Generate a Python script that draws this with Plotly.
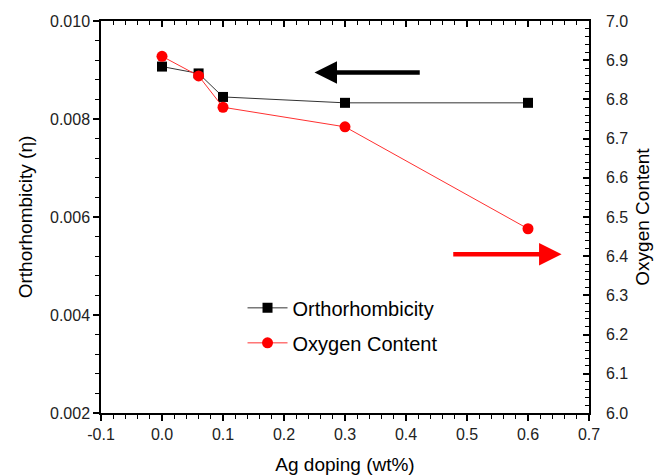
import plotly.graph_objects as go

ag_doping = [0.0, 0.06, 0.1, 0.3, 0.6]
orthorhombicity = [0.00907, 0.00893, 0.00845, 0.00833, 0.00833]
oxygen_content = [6.91, 6.86, 6.78, 6.73, 6.47]

x_tickvals = [-0.1, 0.0, 0.1, 0.2, 0.3, 0.4, 0.5, 0.6, 0.7]
x_ticktext = ["-0.1", "0.0", "0.1", "0.2", "0.3", "0.4", "0.5", "0.6", "0.7"]

FONT = "Liberation Sans, Arial, sans-serif"

fig = go.Figure()
fig.add_trace(go.Scatter(
    x=ag_doping, y=orthorhombicity, name="Orthorhombicity",
    mode="lines+markers", legendgroup="a",
    line=dict(color="#333333", width=1),
    marker=dict(symbol="square", size=10, color="black"),
    yaxis="y", xaxis="x"))
fig.add_trace(go.Scatter(
    x=ag_doping, y=oxygen_content, name="Oxygen Content",
    mode="lines+markers", legendgroup="b",
    line=dict(color="#ff3030", width=1),
    marker=dict(symbol="circle", size=11, color="#ff0000"),
    yaxis="y2", xaxis="x"))

# invisible trace to activate top axis
fig.add_trace(go.Scatter(x=[None], y=[None], xaxis="x2", yaxis="y",
                         showlegend=False, hoverinfo="skip"))

tickfont = dict(family=FONT, size=16, color="#222222")
titlefont = dict(family=FONT, size=19, color="black")

fig.update_layout(
    width=657, height=476,
    margin=dict(l=101, r=68, t=21, b=63),
    plot_bgcolor="white", paper_bgcolor="white",
    showlegend=True,
    legend=dict(x=0.29, y=0.318, xanchor="left", yanchor="top",
                font=dict(family=FONT, size=20, color="black"),
                bgcolor="rgba(0,0,0,0)", traceorder="grouped",
                tracegroupgap=6, itemwidth=40),
    xaxis=dict(range=[-0.1, 0.7], tickvals=x_tickvals, ticktext=x_ticktext,
               showline=True, linecolor="black", linewidth=1.5, automargin=False,
               ticks="outside", ticklen=6, tickwidth=1.5, tickcolor="black",
               minor=dict(dtick=0.02, tick0=0, ticks="outside", ticklen=4, tickcolor="black", tickwidth=1),
               showgrid=False, zeroline=False, tickfont=tickfont,
               title=dict(text="Ag doping (wt%)", font=titlefont, standoff=16)),
    xaxis2=dict(range=[-0.1, 0.7], overlaying="x", side="top", dtick=0.1, tick0=0,
                showline=True, linecolor="black", linewidth=1.5, automargin=False,
                ticks="inside", ticklen=6, tickwidth=1.5, tickcolor="black",
                minor=dict(dtick=0.02, ticks="inside", ticklen=4, tickcolor="black", tickwidth=1),
                showticklabels=False, showgrid=False, zeroline=False),
    yaxis=dict(range=[0.002, 0.010], dtick=0.002, tickformat=".3f",
               showline=True, linecolor="black", linewidth=1.5, automargin=False,
               ticks="outside", ticklen=6, tickwidth=1.5, tickcolor="black",
               minor=dict(dtick=0.0004, ticks="outside", ticklen=4, tickcolor="black", tickwidth=1),
               showgrid=False, zeroline=False, tickfont=tickfont,
               title=dict(text="Orthorhombicity (\u03b7)", font=titlefont, standoff=12)),
    yaxis2=dict(range=[6.0, 7.0], dtick=0.1, tickformat=".1f", overlaying="y", side="right",
                showline=True, linecolor="black", linewidth=1.5, automargin=False,
                ticks="inside", ticklen=6, tickwidth=1.5, tickcolor="black",
                minor=dict(dtick=0.02, ticks="inside", ticklen=4, tickcolor="black", tickwidth=1),
                ticklabelstandoff=12,
                showgrid=False, zeroline=False, tickfont=tickfont,
                title=dict(text="Oxygen Content", font=titlefont, standoff=8)),
)

# Arrows indicating which axis each series belongs to
fig.add_annotation(x=0.25, y=0.00895, ax=0.425, ay=0.00895,
                   xref="x", yref="y", axref="x", ayref="y",
                   showarrow=True, arrowhead=2, arrowsize=1.0, arrowwidth=4.5,
                   arrowcolor="black", text="")
fig.add_annotation(x=0.655, y=6.405, ax=0.475, ay=6.405,
                   xref="x", yref="y2", axref="x", ayref="y2",
                   showarrow=True, arrowhead=2, arrowsize=1.0, arrowwidth=4.5,
                   arrowcolor="#ff0000", text="")

fig.write_html("out.html", config={"displayModeBar": False},
               post_script="document.body.style.margin='0';")
